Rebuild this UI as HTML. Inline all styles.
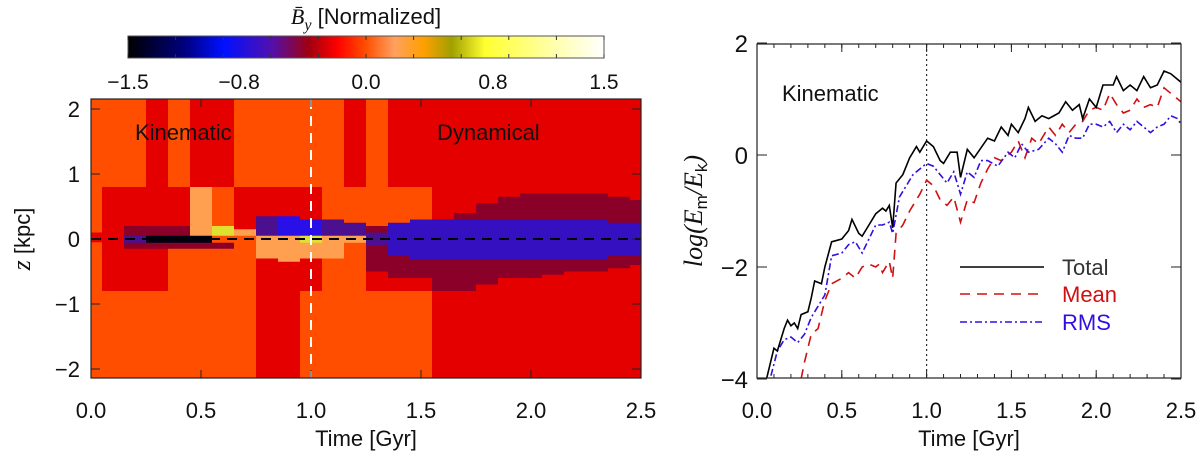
<!DOCTYPE html>
<html><head><meta charset="utf-8">
<style>
body{margin:0;background:#fff;width:1200px;height:456px;overflow:hidden}
svg text{font-family:"Liberation Sans","DejaVu Sans",sans-serif;fill:#111}
</style></head>
<body>
<svg id="chart" width="1200" height="456" viewBox="0 0 1200 456">
<defs>
<linearGradient id="cmap" x1="0" x2="1" y1="0" y2="0">
<stop offset="0" stop-color="#000000"/><stop offset="0.12" stop-color="#000080"/>
<stop offset="0.2" stop-color="#0010ff"/><stop offset="0.3" stop-color="#5010b0"/>
<stop offset="0.38" stop-color="#a00010"/><stop offset="0.44" stop-color="#ff0000"/>
<stop offset="0.5" stop-color="#ff5000"/><stop offset="0.56" stop-color="#ffa060"/>
<stop offset="0.62" stop-color="#ffa000"/><stop offset="0.68" stop-color="#a0a000"/>
<stop offset="0.75" stop-color="#ffff30"/><stop offset="0.88" stop-color="#ffffa0"/>
<stop offset="1" stop-color="#ffffff"/></linearGradient>
<clipPath id="clipL"><rect x="91" y="99" width="550" height="279"/></clipPath>
<clipPath id="clipR"><rect x="757" y="44" width="424" height="334"/></clipPath>
</defs>
<g id="cbar">
<text x="366" y="24" font-size="22" text-anchor="middle"><tspan font-family="Liberation Serif" font-style="italic">B̄</tspan><tspan font-family="Liberation Serif" font-style="italic" font-size="16" dy="6">y</tspan><tspan dy="-6"> [Normalized]</tspan></text>
<rect x="128" y="36" width="476" height="22" fill="url(#cmap)" stroke="#555" stroke-width="1"/>
</g>
<g id="left"></g>
<g id="right"></g>
</svg>
<script>
// colorbar
const cbTicks=[-1.5,-0.8,0.0,0.8,1.5];
const cbLabels=["−1.5","−0.8","0.0","0.8","1.5"];
// heatmap column data (t = 0.0..2.5 step 0.1)
const hmTimes=[0,0.1,0.2,0.3,0.4,0.5,0.6,0.7,0.8,0.9,1.0,1.1,1.2,1.3,1.4,1.5,1.6,1.7,1.8,1.9,2.0,2.1,2.2,2.3,2.4,2.5];
const upFar=[0.15,0.15,0.15,0,0.15,0,0,0.15,0.15,0.15,0.15,0.15,0,0.15,0,0,0,0,0,0,0,0,0,0,0,0];
const upMid=[0.15,0,0,0,0,0.3,0.15,0,0,0,0,0.15,0.15,0.15,0.15,0.15,0,0,0,0,0,0,0,0,0,0];
const upBand=[0,0,-0.3,-0.3,-0.3,0.3,0.6,0.3,-0.5,-0.8,-0.8,-0.5,-0.5,-0.3,-0.3,-0.3,-0.3,-0.3,-0.3,-0.3,-0.3,-0.3,-0.3,-0.3,-0.3,-0.3];
const upH=[0.1,0.1,0.2,0.2,0.2,0.25,0.2,0.15,0.35,0.35,0.3,0.3,0.25,0.2,0.15,0.12,0.3,0.4,0.55,0.65,0.7,0.7,0.7,0.7,0.65,0.6];
const coreV=[0,0,-0.5,-1.4,-1.4,-1.4,0.15,0.15,0.3,0.3,0.6,0.3,0.3,-0.5,-0.6,-0.6,-0.6,-0.6,-0.6,-0.6,-0.6,-0.6,-0.6,-0.6,-0.6,-0.6];
const coreH=[0.03,0.03,0.05,0.05,0.05,0.05,0.05,0.05,0.05,0.05,0.05,0.05,0.05,0.1,0.25,0.3,0.3,0.3,0.3,0.3,0.3,0.3,0.3,0.3,0.25,0.25];
const dnBand=[0,0,-0.3,-0.3,-0.3,-0.3,-0.3,0.15,0.3,0.3,0.3,0.3,0.15,-0.3,-0.3,-0.3,-0.3,-0.3,-0.3,-0.3,-0.3,-0.3,-0.3,-0.3,-0.3,-0.3];
const dnH=[0.05,0.05,0.15,0.15,0.15,0.15,0.15,0.2,0.3,0.35,0.3,0.3,0.25,0.5,0.6,0.6,0.9,0.85,0.7,0.6,0.6,0.55,0.5,0.5,0.45,0.4];
const lowMid=[0.15,0,0,0,0.15,0.15,0.15,0.15,0,0,0,0.15,0.15,0,0,0,0,0,0,0,0,0,0,0,0,0];
const lowFar=[0.15,0.15,0.15,0.15,0.15,0.15,0.15,0.15,0,0,0.15,0.15,0.15,0.15,0.15,0.15,0,0,0,0,0,0,0,0,0,0];
// right panel series
const totT=[0.04,0.08,0.1,0.12,0.16,0.18,0.2,0.22,0.24,0.26,0.3,0.32,0.34,0.38,0.4,0.44,0.5,0.54,0.56,0.6,0.62,0.66,0.7,0.74,0.76,0.78,0.8,0.82,0.86,0.9,0.94,0.96,1.0,1.04,1.08,1.1,1.14,1.18,1.2,1.24,1.28,1.36,1.4,1.44,1.48,1.5,1.54,1.58,1.6,1.64,1.68,1.72,1.78,1.82,1.86,1.9,1.92,1.96,2.0,2.04,2.1,2.12,2.16,2.2,2.24,2.28,2.32,2.36,2.4,2.44,2.46,2.5];
const totV=[-4.2,-3.7,-3.45,-3.5,-3.1,-2.95,-3.05,-3.0,-3.1,-2.85,-2.8,-2.55,-2.25,-2.3,-2.0,-1.55,-1.5,-1.35,-1.15,-1.4,-1.45,-1.25,-1.05,-0.95,-1.0,-0.9,-1.3,-0.5,-0.35,-0.05,0.15,0.05,0.25,0.15,-0.1,-0.15,0.05,0.05,-0.4,0.1,-0.05,0.3,0.25,0.5,0.35,0.55,0.4,0.65,0.85,0.6,0.7,0.65,0.75,0.95,0.8,0.9,0.65,1.0,0.85,1.25,1.25,1.4,1.15,1.25,1.15,1.4,1.2,1.25,1.5,1.45,1.4,1.3];
const meanT=[0.24,0.28,0.32,0.36,0.4,0.44,0.5,0.54,0.58,0.62,0.66,0.7,0.72,0.74,0.78,0.8,0.82,0.86,0.9,0.96,1.0,1.04,1.08,1.12,1.16,1.2,1.24,1.28,1.32,1.36,1.4,1.44,1.5,1.54,1.58,1.62,1.66,1.72,1.76,1.8,1.84,1.88,1.92,1.96,2.0,2.04,2.08,2.12,2.16,2.2,2.24,2.28,2.32,2.36,2.4,2.44,2.5];
const meanV=[-4.3,-3.7,-3.2,-3.1,-2.6,-2.3,-2.2,-2.1,-2.2,-2.0,-1.95,-2.0,-1.95,-2.1,-1.9,-2.2,-1.4,-1.25,-1.0,-0.7,-0.45,-0.55,-0.8,-0.9,-0.75,-1.2,-0.8,-0.85,-0.5,-0.25,-0.05,-0.1,0.05,0.25,-0.05,0.3,0.2,0.5,0.35,0.55,0.4,0.55,0.6,0.8,0.85,0.8,1.1,0.9,0.75,0.8,1.0,0.85,0.9,0.85,1.2,1.1,0.95];
const rmsT=[0.06,0.12,0.16,0.2,0.24,0.28,0.32,0.36,0.4,0.44,0.5,0.54,0.58,0.62,0.66,0.7,0.74,0.78,0.8,0.84,0.88,0.92,0.96,1.0,1.04,1.08,1.12,1.16,1.2,1.24,1.28,1.32,1.36,1.42,1.48,1.52,1.56,1.6,1.66,1.72,1.76,1.8,1.84,1.88,1.92,1.96,2.0,2.04,2.08,2.12,2.16,2.2,2.24,2.28,2.32,2.36,2.4,2.44,2.48,2.5];
const rmsV=[-4.2,-3.5,-3.3,-3.25,-3.35,-3.2,-2.9,-2.7,-2.5,-1.8,-1.75,-1.6,-1.55,-1.75,-1.5,-1.25,-1.25,-1.2,-1.4,-0.75,-0.55,-0.35,-0.25,-0.15,-0.2,-0.35,-0.5,-0.3,-0.7,-0.3,-0.4,-0.1,-0.1,-0.2,0.05,-0.05,0.2,0.05,0.1,0.3,0.2,0.05,0.35,0.3,0.3,0.55,0.55,0.5,0.6,0.4,0.55,0.45,0.6,0.5,0.4,0.5,0.55,0.7,0.65,0.55];
const xTickVals=[0,0.5,1.0,1.5,2.0,2.5];
const xTickLabels=["0.0","0.5","1.0","1.5","2.0","2.5"];
const zTicks=[-2,-1,0,1,2];
const zLabels=["−2","−1","0","1","2"];
const rTicks=[-4,-2,0,2];
const rLabels=["−4","−2","0","2"];

const NS="http://www.w3.org/2000/svg";
function mk(tag,attrs,parent){const e=document.createElementNS(NS,tag);for(const k in attrs)e.setAttribute(k,attrs[k]);parent.appendChild(e);return e;}
const cb=document.getElementById('cbar');
const cbX=v=>128+(v+1.5)/3*476;
cbTicks.forEach((v,i)=>{
  const t=mk('text',{x:cbX(v),y:89,'font-size':21,'text-anchor':'middle'},cb);t.textContent=cbLabels[i];
  
  
});
for(let v=-1.5;v<=1.51;v+=0.3){const x=cbX(v);mk('line',{x1:x,x2:x,y1:36,y2:40,stroke:'#333'},cb);mk('line',{x1:x,x2:x,y1:54,y2:58,stroke:'#333'},cb);}

function color(v){
  if(v<=-1.2)return'#000010';if(v<=-0.75)return'#2a10e8';if(v<=-0.55)return'#3410c0';if(v<=-0.45)return'#4a1090';if(v<=-0.2)return'#8a0028';
  if(v<0.1)return'#e50000';if(v<0.2)return'#ff4e00';if(v<0.45)return'#ffa050';return'#e0e030';
}
// Left panel
const L=document.getElementById('left');
const lx=t=>91+t/2.5*550, lz=z=>239-z*65;
const hm=mk('g',{'clip-path':'url(#clipL)'},L);


mk('rect',{x:91,y:99,width:550,height:279,fill:'#e50000'},hm);
hmTimes.forEach((t,i)=>{
  const x0=lx(t-0.05),w=lx(0.1)-lx(0)+0.6;
  const segs=[[2.2,0.8,upFar[i]],[0.8,upH[i],upMid[i]],[upH[i],0,upBand[i]],[0,-dnH[i],dnBand[i]],[-dnH[i],-0.8,lowMid[i]],[-0.8,-2.2,lowFar[i]],[coreH[i],-coreH[i],coreV[i]]];
  segs.forEach(s=>{
    const r=mk('rect',{x:x0,y:lz(s[0]),width:w,height:lz(s[1])-lz(s[0])+0.5,fill:color(s[2])},hm);
    
    
  });
});
mk('line',{x1:91,x2:641,y1:lz(0),y2:lz(0),stroke:'#000','stroke-width':2,'stroke-dasharray':'10,7'},L);
mk('line',{x1:lx(1),x2:lx(1),y1:99,y2:378,stroke:'#fff','stroke-width':2,'stroke-dasharray':'10,7'},L);
mk('rect',{x:91,y:99,width:550,height:279,fill:'none',stroke:'#222','stroke-width':1.2},L);
xTickVals.forEach((v,i)=>{
  const x=lx(v);mk('line',{x1:x,x2:x,y1:378,y2:370,stroke:'#222'},L);mk('line',{x1:x,x2:x,y1:99,y2:107,stroke:'#222'},L);
  const t=mk('text',{x:x,y:418,'font-size':22,'text-anchor':'middle'},L);t.textContent=xTickLabels[i];
  
  
});
zTicks.forEach((v,i)=>{
  const y=lz(v);mk('line',{x1:91,x2:100,y1:y,y2:y,stroke:'#222'},L);mk('line',{x1:641,x2:632,y1:y,y2:y,stroke:'#222'},L);
  const t=mk('text',{x:80,y:y+8,'font-size':22,'text-anchor':'end'},L);t.textContent=zLabels[i];
  
  
});
let t1=mk('text',{x:366,y:446,'font-size':22,'text-anchor':'middle'},L);t1.textContent='Time [Gyr]';

let t2=mk('text',{x:0,y:0,'font-size':22,'text-anchor':'middle',transform:'translate(30,239) rotate(-90)'},L);t2.innerHTML='<tspan font-family="Liberation Serif" font-style="italic" font-size="26">z</tspan> [kpc]';

let t3=mk('text',{x:135,y:140,'font-size':22},L);t3.textContent='Kinematic';

let t4=mk('text',{x:437,y:140,'font-size':22},L);t4.textContent='Dynamical';


// Right panel
const R=document.getElementById('right');
const rx=t=>757+t/2.5*424, ry=v=>155-v*56;
mk('line',{x1:rx(1),x2:rx(1),y1:44,y2:378,stroke:'#333','stroke-width':1.2,'stroke-dasharray':'2,3'},R);
const lines=mk('g',{'clip-path':'url(#clipR)'},R);
function series(T,V,col,dash,name){
  const p=mk('polyline',{points:T.map((t,i)=>rx(t)+','+ry(V[i])).join(' '),fill:'none',stroke:col,'stroke-width':1.6,'stroke-dasharray':dash},lines);
  
  
}
series(meanT,meanV,'#d01010','10,7','mean-line');
series(rmsT,rmsV,'#3010e0','7,3,2,3','rms-line');
series(totT,totV,'#000','none','total-line');
mk('rect',{x:757,y:44,width:424,height:334,fill:'none',stroke:'#222','stroke-width':1.2},R);
xTickVals.forEach((v,i)=>{
  const x=rx(v);mk('line',{x1:x,x2:x,y1:378,y2:370,stroke:'#222'},R);mk('line',{x1:x,x2:x,y1:44,y2:52,stroke:'#222'},R);
  const t=mk('text',{x:x,y:418,'font-size':22,'text-anchor':'middle'},R);t.textContent=xTickLabels[i];
  
  
});
for(let v=0.1;v<2.5;v+=0.1){const x=rx(v);mk('line',{x1:x,x2:x,y1:378,y2:374,stroke:'#222'},R);mk('line',{x1:x,x2:x,y1:44,y2:48,stroke:'#222'},R);}
rTicks.forEach((v,i)=>{
  const y=ry(v);mk('line',{x1:757,x2:767,y1:y,y2:y,stroke:'#222'},R);mk('line',{x1:1181,x2:1171,y1:y,y2:y,stroke:'#222'},R);
  const t=mk('text',{x:748,y:y+9,'font-size':24,'text-anchor':'end'},R);t.textContent=rLabels[i];
  
  
});
let r1=mk('text',{x:969,y:446,'font-size':22,'text-anchor':'middle'},R);r1.textContent='Time [Gyr]';

let r2=mk('text',{x:0,y:0,'font-size':26,'text-anchor':'middle',transform:'translate(702,211) rotate(-90)',style:'font-family:Liberation Serif;font-style:italic'},R);
r2.innerHTML='log(E<tspan font-size="17" dy="5" style="font-style:normal;font-family:Liberation Sans">m</tspan><tspan dy="-5">/E</tspan><tspan font-size="17" dy="5" style="font-style:normal;font-family:Liberation Sans">k</tspan><tspan dy="-5">)</tspan>';

let r3=mk('text',{x:782,y:101,'font-size':22},R);r3.textContent='Kinematic';

const leg=[['Total','#000','none',267],['Mean','#d01010','10,7',294],['RMS','#3010e0','7,3,2,3',322]];
leg.forEach(l=>{
  const g=mk('g',{},R);
  
  
  mk('line',{x1:960,x2:1044,y1:l[3],y2:l[3],stroke:l[1],'stroke-width':1.6,'stroke-dasharray':l[2]},g);
  const t=mk('text',{x:1062,y:l[3]+8,'font-size':22,style:'fill:'+(l[1]==='#000'?'#333':l[1])},g);t.textContent=l[0];
});
</script>
</body></html>
